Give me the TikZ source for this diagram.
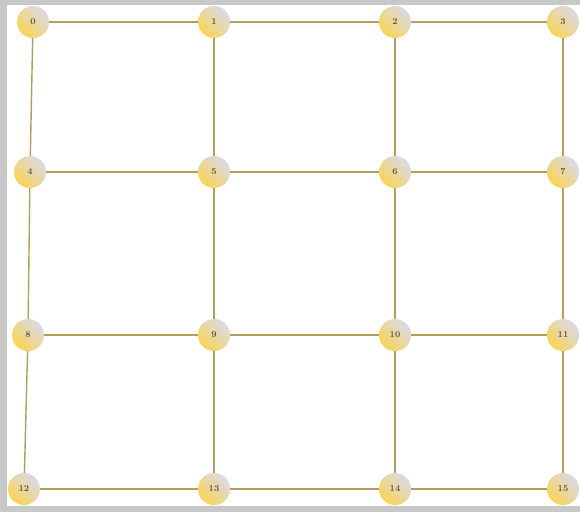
\documentclass[tikz,border=0pt]{standalone}
\usepackage{tikz}
\definecolor{edgec}{RGB}{180,158,92}
\definecolor{nodey}{RGB}{250,212,85}
\definecolor{nodeg}{RGB}{218,218,232}
\definecolor{labc}{RGB}{95,90,80}
\definecolor{framec}{RGB}{200,200,200}
\tikzset{
  vtx/.style={circle, minimum size=32pt, inner sep=0pt, top color=nodeg, bottom color=nodey, shading angle=-45, font=\small\bfseries, text=labc},
  edge/.style={draw=edgec, line width=1.4pt}
}
\begin{document}
\begin{tikzpicture}[x=1pt,y=-1pt]
\useasboundingbox (0,0) rectangle (580,512);
\fill[framec] (0,0) rectangle (580,512);
\fill[white] (7,5) rectangle (580,506);
\node[vtx] (n0) at (33,22) {0};
\node[vtx] (n1) at (214,22) {1};
\node[vtx] (n2) at (395,22) {2};
\node[vtx] (n3) at (563,22) {3};
\node[vtx] (n4) at (30,172) {4};
\node[vtx] (n5) at (214,172) {5};
\node[vtx] (n6) at (395,172) {6};
\node[vtx] (n7) at (563,172) {7};
\node[vtx] (n8) at (28,335) {8};
\node[vtx] (n9) at (214,335) {9};
\node[vtx] (n10) at (395,335) {10};
\node[vtx] (n11) at (563,335) {11};
\node[vtx] (n12) at (24,489) {12};
\node[vtx] (n13) at (214,489) {13};
\node[vtx] (n14) at (395,489) {14};
\node[vtx] (n15) at (563,489) {15};
\foreach \a/\b in {n0/n1,n1/n2,n2/n3,n4/n5,n5/n6,n6/n7,n8/n9,n9/n10,n10/n11,n12/n13,n13/n14,n14/n15,
  n0/n4,n4/n8,n8/n12,n1/n5,n5/n9,n9/n13,n2/n6,n6/n10,n10/n14,n3/n7,n7/n11,n11/n15}
  \draw[edge] (\a) -- (\b);
\end{tikzpicture}
\end{document}
